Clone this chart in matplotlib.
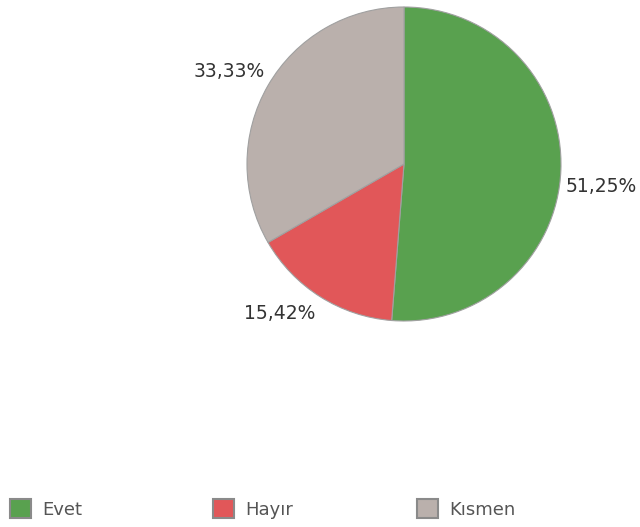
import matplotlib.pyplot as plt
import numpy as np

labels = ['Evet', 'Hayır', 'Kısmen']
values = [51.25, 15.42, 33.33]
pct_labels = ['51,25%', '15,42%', '33,33%']
colors = ['#59A14F', '#E15759', '#BAB0AC']

plt.rcParams['font.family'] = ['DejaVu Sans']

fig = plt.figure(figsize=(6.4, 5.27), dpi=100)
# pie area: center (404,164) px, radius 157 px
ax = fig.add_axes([247 / 640, 1 - 321 / 527, 314 / 640, 314 / 527])

wedges, _ = ax.pie(values, colors=colors, startangle=90, counterclock=False,
                   wedgeprops=dict(edgecolor='#a0a0a0', linewidth=0.8))
ax.set_xlim(-1, 1)
ax.set_ylim(-1, 1)
ax.set_aspect('equal')
ax.axis('off')

# percentage labels next to the wedges
offsets = [(1.032, -0.146, 'left'), (-0.79, -0.955, 'center'), (-0.885, 0.586, 'right')]
for (x, y, ha), txt in zip(offsets, pct_labels):
    ax.text(x, y, txt, ha=ha, va='center', fontsize=13.5, color='#333333')

# one legend entry per column, spaced like the original
leg_x = [10, 213, 417]
for w, lab, x in zip(wedges, labels, leg_x):
    leg = fig.legend([w], [lab], loc='center left',
                     bbox_to_anchor=(x / 640, 1 - 509 / 527), frameon=False,
                     handlelength=1.17, handleheight=1.17, handletextpad=0.62,
                     fontsize=13, borderaxespad=0, borderpad=0)
    for t in leg.get_texts():
        t.set_color('#555555')
    for h in leg.legend_handles:
        h.set_edgecolor('#8a8a8a')
        h.set_linewidth(1.5)

fig.savefig('out.png', dpi=100)
